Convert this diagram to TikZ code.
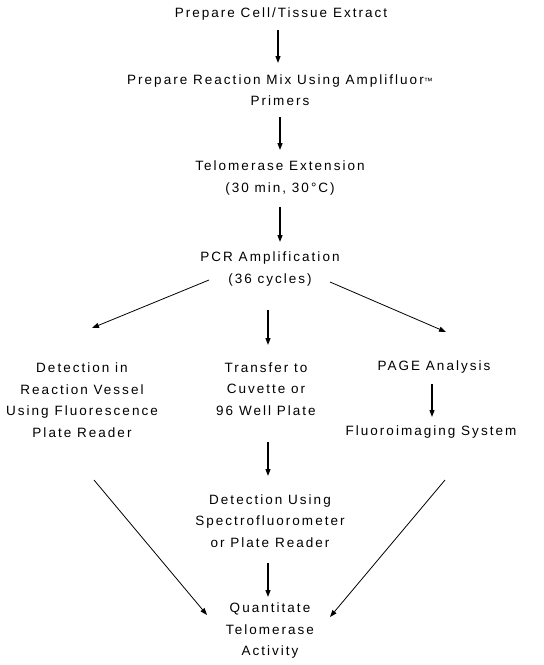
\documentclass[tikz,border=0pt]{standalone}
\usepackage{fontspec}
\setmainfont{Liberation Sans}[LetterSpace=15]
\usetikzlibrary{arrows.meta,calc}
\begin{document}
\begin{tikzpicture}[x=1pt,y=-1pt,
  lbl/.style={inner sep=0pt,align=center,font=\fontsize{13.5}{21.5}\selectfont},
  varr/.style={line width=1.2pt,-{Triangle[length=7pt,width=5pt]}},
  darr/.style={line width=0.8pt,-{Triangle[length=7pt,width=5pt]}}]
\useasboundingbox[fill=white] (0,0) rectangle (544,665);
\node[lbl] (t1) at (281,14) {Prepare Cell/Tissue Extract};
\node[lbl] (t2) at (280,90) {Prepare Reaction Mix Using Amplifluor{\fontsize{9}{9}\selectfont ™}\\Primers};
\node[lbl] (t3) at (280,178) {Telomerase Extension\\(30 min, 30°C)};
\node[lbl] (pcr) at (270,269) {PCR Amplification\\(36 cycles)};
\node[lbl] (det) at (82,400) {Detection in\\Reaction Vessel\\Using Fluorescence\\Plate Reader};
\node[lbl] (mid) at (266,389) {Transfer to\\Cuvette or\\96 Well Plate};
\node[lbl] (page) at (434,367) {PAGE Analysis};
\node[lbl] (fluo) at (431,432) {Fluoroimaging System};
\node[lbl] (spec) at (270,521) {Detection Using\\Spectrofluorometer\\or Plate Reader};
\node[lbl] (quant) at (270,631) {Quantitate\\Telomerase\\Activity};
\draw[varr] ($(t1)+(-3,16)$) -- ($(t2)+(-2,-27)$);
\draw[varr] ($(t2)+(0,27)$) -- ($(t3)+(0,-28)$);
\draw[varr] ($(t3)+(0,29)$) -- ($(pcr)+(10,-27)$);
\draw[darr] ($(pcr)+(-61,11)$) -- ($(det)+(10,-72)$);
\draw[darr] ($(pcr)+(60,13)$) -- ($(page)+(12,-35)$);
\draw[varr] ($(pcr)+(-2,41)$) -- ($(mid)+(2,-44)$);
\draw[varr] ($(page)+(-2,17)$) -- ($(fluo)+(1,-15)$);
\draw[varr] ($(mid)+(2,53)$) -- ($(spec)+(-2,-45)$);
\draw[varr] ($(spec)+(-2,42)$) -- ($(quant)+(-2,-34)$);
\draw[darr] ($(det)+(12,80)$) -- ($(quant)+(-63,-16)$);
\draw[darr] ($(fluo)+(14,48)$) -- ($(quant)+(60,-14)$);
\end{tikzpicture}
\end{document}
